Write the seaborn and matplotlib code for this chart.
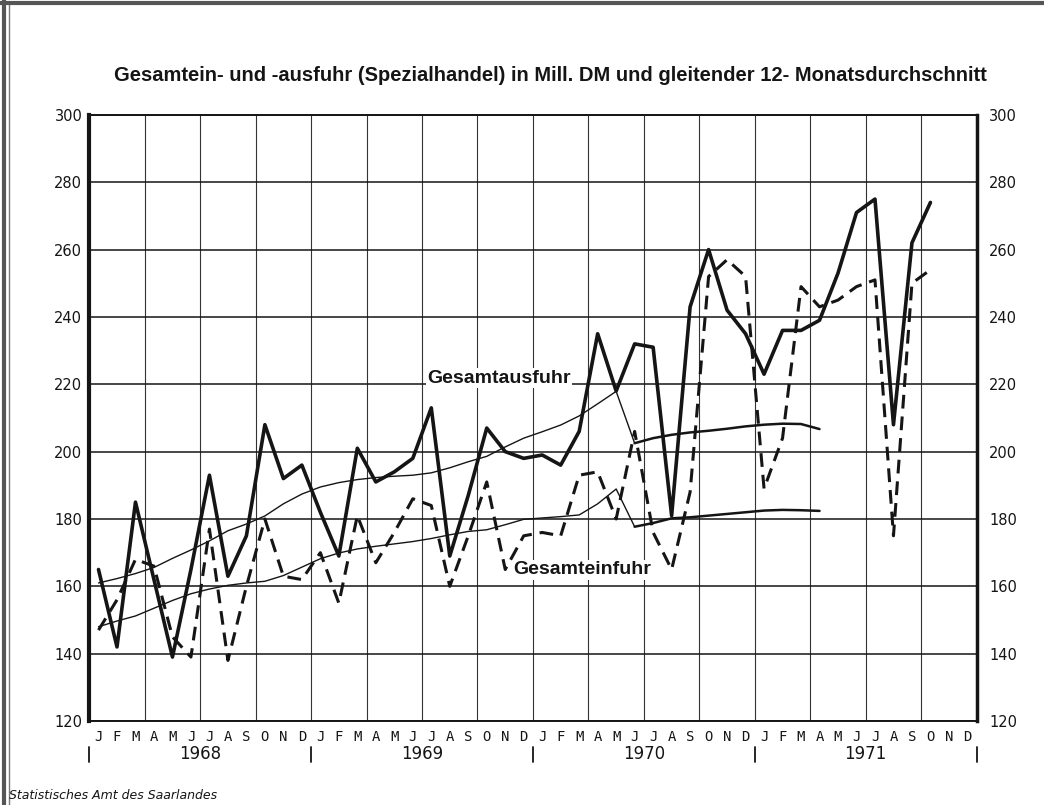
import numpy as np
import matplotlib
matplotlib.use("Agg")
import matplotlib.pyplot as plt
import matplotlib.transforms as mtransforms
import seaborn as sns

# Data (Mill. DM), Jan 1968 - Oct 1971
years = [1968, 1969, 1970, 1971]
month_letters = ["J", "F", "M", "A", "M", "J", "J", "A", "S", "O", "N", "D"]

ausfuhr = [165, 142, 185, 162, 139, 165, 193, 163, 175, 208, 192, 196,
           182, 169, 201, 191, 194, 198, 213, 169, 187, 207, 200, 198,
           199, 196, 206, 235, 218, 232, 231, 181, 243, 260, 242, 235,
           223, 236, 236, 239, 253, 271, 275, 208, 262, 274]
einfuhr = [147, 156, 168, 166, 145, 139, 177, 138, 160, 180, 163, 162,
           170, 155, 181, 167, 176, 186, 184, 160, 175, 191, 165, 175,
           176, 175, 193, 194, 180, 206, 176, 165, 188, 252, 257, 252,
           189, 204, 249, 243, 245, 249, 251, 175, 250, 254]

# gleitender 12-Monatsdurchschnitt: old series Jan 1968 - Jun 1970, new series Jun 1970 - Apr 1971
ausfuhr_ma_alt = [161.0, 162.3, 163.8, 165.6, 168.3, 170.8, 173.5, 176.5, 178.5, 180.9, 184.5, 187.4,
                  189.5, 190.8, 191.7, 192.3, 192.7, 193.0, 193.7, 195.2, 197.0, 198.6, 201.4, 204.0,
                  205.9, 207.9, 210.6, 214.2, 217.9, 202.5]
ausfuhr_ma_neu = [202.5, 204.0, 205.0, 205.7, 206.2, 206.8, 207.5, 208.0, 208.3, 208.2, 206.7]
einfuhr_ma_alt = [148.0, 149.7, 151.2, 153.5, 155.8, 157.8, 159.2, 160.3, 161.0, 161.5, 163.2, 165.7,
                  168.2, 169.9, 171.1, 171.9, 172.6, 173.3, 174.2, 175.3, 176.3, 176.8, 178.3, 179.9,
                  180.3, 180.7, 181.2, 184.5, 188.9, 177.7]
einfuhr_ma_neu = [177.7, 178.8, 180.2, 180.5, 181.0, 181.5, 182.0, 182.5, 182.7, 182.6, 182.4]

y_ticks = list(range(120, 301, 20))

sns.set_theme(style="white")
plt.rcParams["font.family"] = ["DejaVu Sans"]

ink = "#151515"
fig = plt.figure(figsize=(10.44, 8.05), dpi=100)
ax = fig.add_axes([0.0855, 0.1043, 0.85, 0.753])

n_months = len(years) * 12
monate = np.arange(len(ausfuhr))
start_neu = len(ausfuhr_ma_alt) - 1

# moving averages
sns.lineplot(x=np.arange(len(ausfuhr_ma_alt)), y=ausfuhr_ma_alt, ax=ax, color=ink, lw=1.0)
sns.lineplot(x=np.arange(len(einfuhr_ma_alt)), y=einfuhr_ma_alt, ax=ax, color=ink, lw=1.0)
sns.lineplot(x=np.arange(start_neu, start_neu + len(ausfuhr_ma_neu)), y=ausfuhr_ma_neu,
             ax=ax, color=ink, lw=1.8)
sns.lineplot(x=np.arange(start_neu, start_neu + len(einfuhr_ma_neu)), y=einfuhr_ma_neu,
             ax=ax, color=ink, lw=1.8)

# monthly values
sns.lineplot(x=monate, y=ausfuhr, ax=ax, color=ink, lw=2.6)
sns.lineplot(x=monate, y=einfuhr, ax=ax, color=ink, lw=2.2)
ax.lines[-1].set_dashes([4.5, 2.6])

ax.set_xlim(-0.5, n_months - 0.5)
ax.set_ylim(120, 300)
ax.set_yticks(y_ticks)
ax.set_xticks(np.arange(-0.5, n_months, 3))
ax.set_xticks(np.arange(-0.5, n_months, 1), minor=True)
ax.set_xticklabels([])
ax.tick_params(axis="x", which="major", length=5, width=1, color=ink, direction="out")
ax.tick_params(axis="x", which="minor", length=4, width=1, color=ink, direction="out")
ax.tick_params(axis="y", length=0, pad=5, labelsize=10.5, labelcolor=ink)
ax.set_xlabel("")
ax.set_ylabel("")
ax.grid(True, which="major", axis="y", color=ink, lw=1.1)
ax.grid(True, which="major", axis="x", color="#333333", lw=0.8)

for side, w in [("left", 3.0), ("right", 2.5), ("top", 1.4), ("bottom", 1.4)]:
    ax.spines[side].set_visible(True)
    ax.spines[side].set_color(ink)
    ax.spines[side].set_linewidth(w)

ax2 = ax.twinx()
ax2.set_ylim(120, 300)
ax2.set_yticks(y_ticks)
ax2.tick_params(axis="y", length=0, pad=9, labelsize=10.5, labelcolor=ink)
ax2.grid(False)
for side in ["left", "right", "top", "bottom"]:
    ax2.spines[side].set_visible(False)

# month and year labels below the axis
trans = mtransforms.blended_transform_factory(ax.transData, ax.transAxes)
for i in range(n_months):
    ax.text(i, -0.027, month_letters[i % 12], transform=trans, ha="center", va="center",
            fontsize=10, family="DejaVu Sans Mono", color=ink)
for k, yr in enumerate(years):
    ax.text(k * 12 + 5.5, -0.054, str(yr), transform=trans, ha="center", va="center",
            fontsize=12, color=ink)
for k in range(len(years) + 1):
    b = k * 12 - 0.5
    ax.plot([b, b], [-0.043, -0.068], transform=trans, color=ink, lw=1.3, clip_on=False)

# series labels
label_font = ["Liberation Sans", "DejaVu Sans"]
ax.text(17.8, 221.8, "Gesamtausfuhr", ha="left", va="center", fontsize=14, color=ink,
        fontweight="bold", family=label_font,
        bbox=dict(facecolor="white", edgecolor="none", pad=1.0))
ax.text(22.45, 164.9, "Gesamteinfuhr", ha="left", va="center", fontsize=14, color=ink,
        fontweight="bold", family=label_font,
        bbox=dict(facecolor="white", edgecolor="none", pad=1.0))

fig.text(0.527, 0.906,
         "Gesamtein- und -ausfuhr (Spezialhandel) in Mill. DM und gleitender 12- Monatsdurchschnitt",
         ha="center", va="center", fontsize=14.5, fontweight="bold", color=ink,
         family=["Liberation Sans", "DejaVu Sans"])
fig.text(0.009, 0.012, "Statistisches Amt des Saarlandes", ha="left", va="center",
         fontsize=9, style="italic", color=ink)

# scanned page frame
fig.add_artist(plt.Line2D([0.004, 0.004], [0.0, 1.0], transform=fig.transFigure, color="#555555", lw=3))
fig.add_artist(plt.Line2D([0.009, 0.009], [0.0, 0.995], transform=fig.transFigure, color="#777777", lw=1))
fig.add_artist(plt.Line2D([0.0, 1.0], [0.996, 0.996], transform=fig.transFigure, color="#555555", lw=3))

fig.savefig("out.png", dpi=100, facecolor="white")
